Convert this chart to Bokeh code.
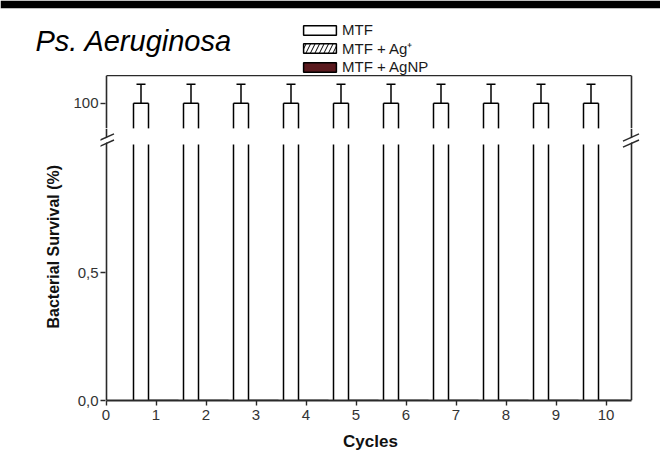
from bokeh.plotting import figure
from bokeh.layouts import column
from bokeh.models import (ColumnDataSource, Range1d, FixedTicker, LinearAxis, Whisker,
                          TeeHead, Legend, LegendItem, Label, Arrow, Title)
from bokeh.transform import dodge
from bokeh.embed import file_html
from bokeh.resources import INLINE

# ---- data ----
cycles = [1, 2, 3, 4, 5, 6, 7, 8, 9, 10]
mtf = [100, 100, 100, 100, 100, 100, 100, 100, 100, 100]
mtf_err = [10, 10, 10, 10, 10, 10, 10, 10, 10, 10]
mtf_ag = [0, 0, 0, 0, 0, 0, 0, 0, 0, 0]
mtf_agnp = [0, 0, 0, 0, 0, 0, 0, 0, 0, 0]
series_names = ["MTF", "MTF + Ag\u207a", "MTF + AgNP"]
x_ticks = [0, 1, 2, 3, 4, 5, 6, 7, 8, 9, 10]
y_low_ticks = [0, 0.5]
y_low_labels = ["0,0", "0,5"]
y_high_ticks = [100]

src = ColumnDataSource(dict(
    cycle=cycles, mtf=mtf, ag=mtf_ag, agnp=mtf_agnp,
    upper=[v + e for v, e in zip(mtf, mtf_err)],
    lower=[v - e for v, e in zip(mtf, mtf_err)],
))

FONT = "Liberation Sans"
AX = "#2a2a2a"
AGNP_COLOR = "#5a1a1e"
BAR_W = 0.3
AXIS_X = (0, 10.5)          # extent of the drawn axes box
X_RANGE = (-0.11, 10.69)    # frame a bit wider than the box (room for break marks)
LOW_RANGE = (0, 1.0625)
BREAK_LOW = 1.0
HIGH_RANGE = (86.7, 114.6)
EDGE = 8                    # dark top edge of the picture

xr = Range1d(*X_RANGE)


def style_axis(ax, ticks, labels=None, tick_in=0, tick_out=0, line=True):
    ax.ticker = FixedTicker(ticks=ticks)
    ax.axis_line_color = AX if line else None
    ax.axis_line_width = 1.6
    ax.major_tick_line_color = AX
    ax.major_tick_line_width = 1.4
    ax.major_tick_out = tick_out
    ax.major_tick_in = tick_in
    ax.minor_tick_line_color = None
    ax.major_label_text_font = FONT
    ax.major_label_text_font_size = "15px"
    ax.major_label_text_color = "#333333"
    ax.major_label_standoff = 4
    if labels:
        ax.major_label_overrides = labels


def add_box_sides(p, yrange, ticks, labels=None):
    # tick labels + ticks at the frame edge (ticks reach in to the box line)
    lab = LinearAxis()
    style_axis(lab, ticks, labels=labels, tick_in=5, line=False)
    lab.major_label_standoff = 2
    p.add_layout(lab, "left")
    # box lines at the data positions 0 and 10.5
    left = LinearAxis(fixed_location=AXIS_X[0], bounds=yrange)
    style_axis(left, [])
    p.add_layout(left, "left")
    right = LinearAxis(fixed_location=AXIS_X[1], bounds=yrange)
    style_axis(right, [])
    p.add_layout(right, "right")


def mtf_bars(p, top_edge):
    # white MTF bars; outline drawn as separate sides so that the break stays open
    p.vbar(x=dodge("cycle", -BAR_W, range=p.x_range), top="mtf", bottom=0, width=BAR_W,
           source=src, fill_color="white", line_color=None)
    for off in (-1.5 * BAR_W, -0.5 * BAR_W):
        p.segment(x0=dodge("cycle", off, range=p.x_range), y0=0,
                  x1=dodge("cycle", off, range=p.x_range), y1="mtf",
                  source=src, line_color="black", line_width=1.5)
    if top_edge:
        p.segment(x0=dodge("cycle", -1.5 * BAR_W, range=p.x_range), y0="mtf",
                  x1=dodge("cycle", -0.5 * BAR_W, range=p.x_range), y1="mtf",
                  source=src, line_color="black", line_width=1.5)


BAR_KW = dict(width=BAR_W, bottom=0, source=src, line_color="black", line_width=1.5)


def mtf_legend_bar(p, visible):
    return p.vbar(x=dodge("cycle", -BAR_W, range=p.x_range), top="mtf", fill_color="white",
                  visible=visible, **BAR_KW)


def silver_bars(p, visible):
    r2 = p.vbar(x=dodge("cycle", 0, range=p.x_range), top="ag", fill_color="white",
                hatch_pattern="/", hatch_color="black", hatch_scale=9, hatch_weight=1,
                visible=visible, **BAR_KW)
    r3 = p.vbar(x=dodge("cycle", BAR_W, range=p.x_range), top="agnp", fill_color=AGNP_COLOR,
                visible=visible, **BAR_KW)
    return r2, r3


# ---- header: title + legend ----
p0 = figure(width=660, height=75, x_range=Range1d(0, 660), y_range=Range1d(75, EDGE),
            title=None, x_axis_location=None, y_axis_location=None, output_backend="svg",
            toolbar_location=None, min_border_left=0, min_border_right=0,
            min_border_top=EDGE, min_border_bottom=0)
p0.frame_align = False
p0.outline_line_color = None
p0.grid.visible = False
p0.border_fill_color = "black"
p0.background_fill_color = "white"
h_mtf = mtf_legend_bar(p0, visible=False)
h_ag, h_agnp = silver_bars(p0, visible=False)
legend = Legend(items=[LegendItem(label=series_names[0], renderers=[h_mtf]),
                       LegendItem(label=series_names[1], renderers=[h_ag]),
                       LegendItem(label=series_names[2], renderers=[h_agnp])],
                location=(299, 0), padding=0, margin=0, spacing=-2,
                glyph_width=41, glyph_height=12, label_height=16, label_standoff=2,
                label_text_font=FONT, label_text_font_size="15px",
                label_text_color="#1a1a1a", border_line_color=None,
                background_fill_alpha=0, inactive_fill_alpha=0)
p0.add_layout(legend, "center")
p0.add_layout(Label(x=35, y=40, text="Ps. Aeruginosa", text_font=FONT,
                    text_font_style="italic", text_font_size="29px", text_color="black",
                    text_baseline="alphabetic", text_align="left"))

# ---- upper panel (around 100 %) ----
p1 = figure(frame_width=540, frame_height=53, x_range=xr, y_range=Range1d(*HIGH_RANGE),
            title=None, x_axis_location=None, y_axis_location=None, output_backend="svg",
            toolbar_location=None, min_border_left=100, min_border_right=20,
            min_border_top=0, min_border_bottom=0)
p1.outline_line_color = None
p1.grid.visible = False
add_box_sides(p1, HIGH_RANGE, y_high_ticks)
ta1 = LinearAxis(bounds=AXIS_X)
style_axis(ta1, [])
p1.add_layout(ta1, "above")

mtf_bars(p1, top_edge=True)
wh = Whisker(base=dodge("cycle", -BAR_W, range=xr), upper="upper", lower="lower", source=src,
             line_color="black", line_width=1.5,
             upper_head=TeeHead(size=9, line_color="black", line_width=1.5),
             lower_head=TeeHead(size=9, line_color="black", line_width=1.5))
p1.add_layout(wh)

# ---- lower panel (0 - 1) ----
p2 = figure(frame_width=540, frame_height=272, x_range=xr, y_range=Range1d(*LOW_RANGE),
            title=None, x_axis_location=None, y_axis_location=None, output_backend="svg",
            toolbar_location=None, min_border_left=100, min_border_right=20,
            min_border_top=0, min_border_bottom=70)
p2.outline_line_color = None
p2.grid.visible = False

ba2 = LinearAxis(bounds=AXIS_X)
style_axis(ba2, x_ticks, tick_out=5)
ba2.axis_label = "Cycles"
ba2.axis_label_text_font = FONT
ba2.axis_label_text_font_style = "bold"
ba2.axis_label_text_font_size = "17px"
ba2.axis_label_text_color = "#111111"
ba2.axis_label_standoff = 9
ba2.axis_line_width = 2
p2.add_layout(ba2, "below")
add_box_sides(p2, LOW_RANGE, y_low_ticks,
              labels={t: l for t, l in zip(y_low_ticks, y_low_labels)})

p2.add_layout(Title(text="Bacterial Survival (%)", align="left", offset=72, standoff=25,
                    text_font=FONT, text_font_style="bold", text_font_size="16px",
                    text_color="#111111"), "left")

mtf_bars(p2, top_edge=False)
silver_bars(p2, visible=True)

# axis break gap
p2.quad(left=X_RANGE[0], right=X_RANGE[1], bottom=BREAK_LOW, top=LOW_RANGE[1],
        fill_color="white", line_color=None)

# break slashes on left and right axes
yb = 1.0156
dx, dy, off = 0.16, 0.014, 0.012
for xb in AXIS_X:
    p2.add_layout(Arrow(end=None, x_start=xb - dx, y_start=yb - dy, x_end=xb + dx, y_end=yb + dy,
                        line_color="white", line_width=4))
    for s in (-off, off):
        p2.add_layout(Arrow(end=None, x_start=xb - dx, y_start=yb - dy + s,
                            x_end=xb + dx, y_end=yb + dy + s, line_color=AX, line_width=1.4))

layout = column(p0, p1, p2, spacing=0)
open("out.html", "w").write(file_html(layout, INLINE))
